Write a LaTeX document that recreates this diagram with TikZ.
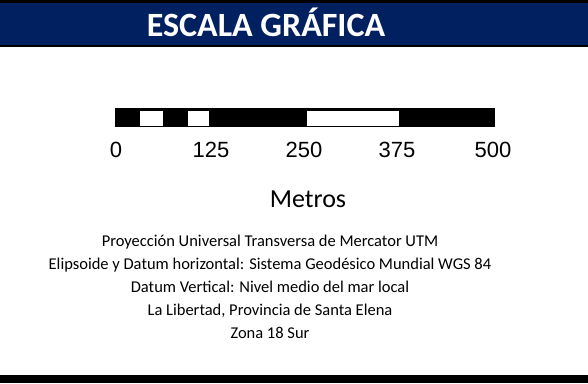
\documentclass[tikz,border=0pt]{standalone}
\usepackage{fontspec}
\setmainfont{Carlito}
\newfontfamily\digitfont{Liberation Sans}
\usetikzlibrary{positioning}
\definecolor{titlenavy}{HTML}{002060}

\begin{document}
\begin{tikzpicture}[x=1pt, y=-1pt, every node/.style={inner sep=0pt, outer sep=0pt},
	tick/.style={anchor=base, font=\digitfont\fontsize{22}{26}\selectfont},
	gap/.style={fill=white}]
		\useasboundingbox (0,0) rectangle (588,383);
		
		% band at the top
		\fill[black] (0,0) rectangle (588,3);
		\fill[titlenavy] (0,3) rectangle (588,45);
		\fill[black] (0,45) rectangle (588,46.5);
		\node[text=white, font=\bfseries\fontsize{34}{38}\selectfont] (title) at (266,22) {ESCALA GRÁFICA};
		
		% the bar
		\node[draw=none, fill=black, minimum width=380pt, minimum height=19pt] (bar) at (305,117.5) {};
		\fill[gap] (140,110.5) rectangle (162.5,125.5);
		\fill[gap] (187.5,110.5) rectangle (209,125.5);
		\fill[gap] (306.5,110.5) rectangle (398.5,125.5);
		
		\foreach \v/\x in {0/116, 125/211, 250/304, 375/397, 500/493}
		\node[tick] (t\v) at (\x,157) {\v};
		
		\node[anchor=base, font=\fontsize{26}{30}\selectfont] (unit) at (308,207) {Metros};
		
		\node[anchor=north, align=center, font=\fontsize{16.5}{22.8}\selectfont] (notes) at (270,235.5) {Proyección Universal Transversa de Mercator UTM\\
			Elipsoide y Datum horizontal: Sistema Geodésico Mundial WGS 84\\
			Datum Vertical: Nivel medio del mar local\\
			La Libertad, Provincia de Santa Elena\\
			Zona 18 Sur};
		
		% band at the bottom
		\fill[black] (0,375) rectangle (588,383);
		\end{tikzpicture}
\end{document}
